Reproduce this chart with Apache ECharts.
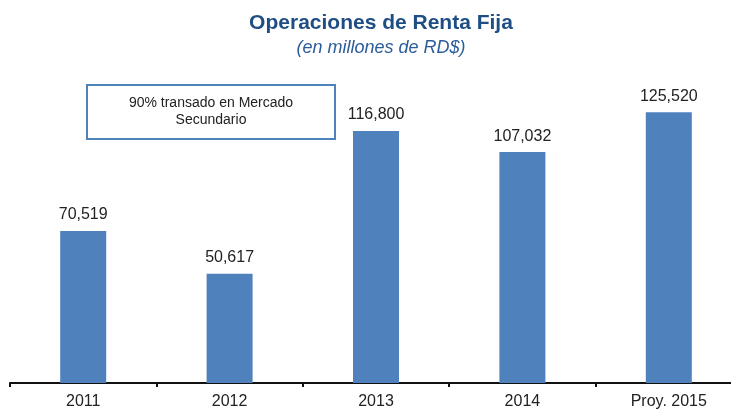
<!DOCTYPE html>
<html>
<head>
<meta charset="utf-8">
<script src="https://cdn.jsdelivr.net/npm/echarts@6/dist/echarts.min.js"></script>
<style>
  html, body { margin: 0; padding: 0; background: #fff; }
  #chart { width: 731px; height: 410px; }
</style>
</head>
<body>
<div id="chart"></div>
<script>
var years = ['2011', '2012', '2013', '2014', 'Proy. 2015'];
var operaciones = [70519, 50617, 116800, 107032, 125520];

var myChart = echarts.init(document.getElementById('chart'));

var option = {
  animation: false,
  title: {
    text: 'Operaciones de Renta Fija',
    subtext: '(en millones de RD$)',
    left: 376,
    textAlign: 'center',
    top: 8,
    itemGap: 5,
    textStyle: {
      fontFamily: 'Liberation Sans',
      fontSize: 21,
      fontWeight: 'bold',
      color: '#1F4E85'
    },
    subtextStyle: {
      fontFamily: 'Liberation Sans',
      fontSize: 18,
      fontStyle: 'italic',
      color: '#2A5C9A'
    }
  },
  grid: {
    left: 10,
    width: 732,
    top: 81,
    bottom: 27,
    outerBoundsMode: 'none'
  },
  xAxis: {
    type: 'category',
    data: years,
    axisLine: { lineStyle: { color: '#111', width: 2 } },
    axisTick: { show: true, length: 4, lineStyle: { color: '#111', width: 2 } },
    axisLabel: {
      fontFamily: 'Liberation Sans',
      fontSize: 16,
      color: '#222',
      margin: 11
    }
  },
  yAxis: {
    type: 'value',
    min: 0,
    max: 140000,
    show: false,
    splitLine: { show: false }
  },
  series: [{
    type: 'bar',
    data: operaciones,
    barWidth: 46,
    itemStyle: { color: '#4F81BD' },
    label: {
      show: true,
      position: 'top',
      distance: 8,
      fontFamily: 'Liberation Sans',
      fontSize: 16,
      color: '#222',
      formatter: function (p) {
        return p.value.toLocaleString('en-US');
      }
    }
  }],
  graphic: [{
    type: 'group',
    left: 86,
    top: 84,
    children: [{
      type: 'rect',
      shape: { x: 0, y: 0, width: 248, height: 54 },
      style: { fill: '#fff', stroke: '#4F81BD', lineWidth: 2 }
    }, {
      type: 'text',
      x: 124,
      y: 27,
      style: {
        text: '90% transado en Mercado\nSecundario',
        align: 'center',
        verticalAlign: 'middle',
        fontFamily: 'Liberation Sans',
        fontSize: 14,
        lineHeight: 17,
        fill: '#222'
      }
    }]
  }]
};

myChart.setOption(option);
</script>
</body>
</html>
